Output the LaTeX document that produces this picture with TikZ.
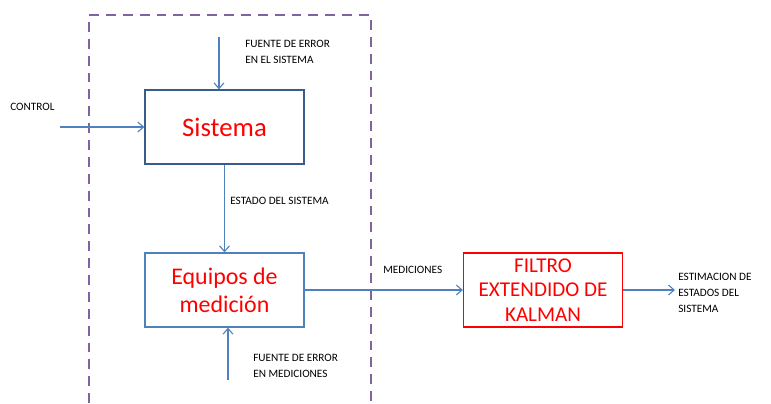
\documentclass[tikz,border=0pt]{standalone}
\usepackage{fontspec}
\setmainfont{Carlito}
\usetikzlibrary{
  arrows.meta,
  positioning,
  calc
}
\definecolor{azul}{RGB}{79,129,189}
\definecolor{azuloscuro}{RGB}{56,93,138}
\definecolor{morado}{RGB}{128,100,162}
\definecolor{rojo}{RGB}{255,0,0}

\begin{document}
\begin{tikzpicture}[x=0.025cm,y=-0.025cm,
	bloque/.style={rectangle,draw=azul,line width=0.9pt,align=center,text=rojo,minimum width=3.975cm,minimum height=1.85cm,inner sep=2pt},
	etiqueta/.style={rectangle,anchor=north west,align=left,inner sep=0pt,font=\fontsize{8}{11.3}\selectfont},
	flecha/.style={draw=azul,line width=0.8pt,-{Straight Barb[length=4pt,width=7pt]}}]
		\useasboundingbox (0,0) rectangle (771,403);
		% caja punteada
		\draw[morado,line width=2.1pt,dash pattern=on 7pt off 5pt] (89,403) -- (89,15) -- (371,15) -- (371,403);

		\node[bloque,draw=azuloscuro,font=\fontsize{19}{22}\selectfont] (sistema) at (224.5,127) {Sistema};
		\node[bloque,font=\fontsize{17}{20}\selectfont] (equipos) at (224.5,290) {Equipos de\\medición};
		\node[bloque,draw=rojo,font=\fontsize{15}{17.5}\selectfont] (filtro) at (543,290) {FILTRO\\EXTENDIDO DE\\KALMAN};

		\coordinate (errsis) at (219,37);
		\coordinate (control) at (60,127);
		\coordinate (errmed) at (228,380);
		\coordinate (estim) at (675,290);

		\node[etiqueta] (l1) at (245,40) {FUENTE DE ERROR\\EN EL SISTEMA};
		\node[etiqueta] (l2) at (10,103) {CONTROL};
		\node[etiqueta] (l3) at (230,197) {ESTADO DEL SISTEMA};
		\node[etiqueta] (l4) at (253,354) {FUENTE DE ERROR\\EN MEDICIONES};
		\node[etiqueta] (l5) at (383,266) {MEDICIONES};
		\node[etiqueta] (l6) at (678,273) {ESTIMACION DE\\ESTADOS DEL\\SISTEMA};

		\draw[flecha] (errsis) -- (errsis |- sistema.north);
		\draw[flecha] (control) -- (sistema.west);
		\draw[flecha] (sistema.south) -- (sistema.south |- equipos.north);
		\draw[flecha] (errmed) -- (errmed |- equipos.south);
		\draw[flecha] (equipos.east) -- (filtro.west);
		\draw[flecha] (filtro.east) -- (estim);
	\end{tikzpicture}
\end{document}
